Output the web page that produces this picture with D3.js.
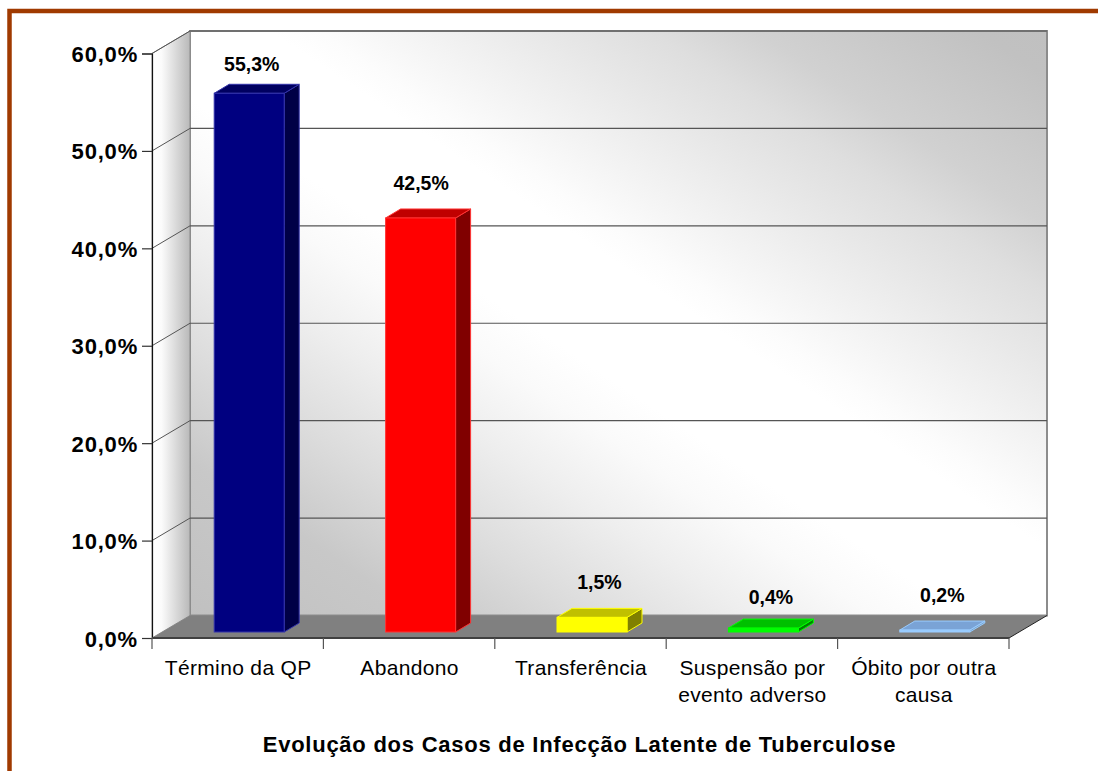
<!DOCTYPE html>
<html>
<head>
<meta charset="utf-8">
<script src="https://cdn.jsdelivr.net/npm/d3@7"></script>
<style>
  html, body { margin: 0; padding: 0; background: #fff; }
  svg { display: block; font-family: "Liberation Sans", Arial, sans-serif; }
</style>
</head>
<body>
<script>
const categories = ['Término da QP', 'Abandono', 'Transferência', 'Suspensão por|evento adverso', 'Óbito por outra|causa'];
const values = [55.3, 42.5, 1.5, 0.4, 0.2];
const yTicks = [0, 10, 20, 30, 40, 50, 60];
const title = 'Evolução dos Casos de Infecção Latente de Tuberculose';

const frontColors = ['#000080', '#ff0000', '#ffff00', '#00ff00', '#99ccff'];
const sideColors = ['#000046', '#800000', '#808000', '#008000', '#7aa3cc'];
const topColors = ['#000060', '#c00000', '#c0c000', '#00c000', '#7aa3d6'];
const edgeColors = ['#3333aa', '#ff3333', '#ffff00', '#00ff00', '#99ccff'];
const labelGap = [13, 19, 19, 15, 19];
const labelShift = [-5, -7, 0, 0, 0];

const width = 1098, height = 771;
const wallDx = 38, wallDy = -22.5;   // depth of the 3d box
const barDx = 15, barDy = -9;        // depth of one bar
const barOffX = 11.5, barOffY = -6;  // bars stand a bit behind the front edge

const x = d3.scaleBand().domain(categories).range([152, 1009]);
const y = d3.scaleLinear().domain([0, 60]).range([638, 53.5]);
const barW = 70;

const fmt = v => v.toFixed(1).replace('.', ',') + '%';

const svg = d3.select('body').append('svg').attr('width', width).attr('height', height);
const defs = svg.append('defs');

// white band runs top left to bottom right
const wallGrad = defs.append('linearGradient').attr('id', 'wall')
  .attr('gradientUnits', 'userSpaceOnUse')
  .attr('x1', 330).attr('y1', 760).attr('x2', 910).attr('y2', -110);
wallGrad.selectAll('stop')
  .data([[0.04, '#c0c0c0'], [0.163, '#c8c8c8'], [0.251, '#dcdcdc'], [0.337, '#eeeeee'], [0.404, '#fafafa'],
    [0.452, '#ffffff'], [0.548, '#ffffff'], [0.574, '#fcfcfc'], [0.691, '#e8e8e8'], [0.751, '#dedede'],
    [0.806, '#d1d1d1'], [0.924, '#c1c1c1'], [0.96, '#c0c0c0']])
  .join('stop').attr('offset', d => d[0]).attr('stop-color', d => d[1]);

const sideGrad = defs.append('linearGradient').attr('id', 'side');
sideGrad.selectAll('stop')
  .data([[0, '#ffffff'], [0.25, '#fbfbfb'], [1, '#b9b9b9']])
  .join('stop').attr('offset', d => d[0]).attr('stop-color', d => d[1]);

// page frame
svg.append('path')
  .attr('d', `M9.5,771V11H${width}`)
  .attr('fill', 'none').attr('stroke', '#a03a00').attr('stroke-width', 4.5);

const x0 = x.range()[0], x1 = x.range()[1];
const yBase = y(0), yTop = y(60);

// back wall, left wall, floor
svg.append('rect')
  .attr('x', x0 + wallDx).attr('y', yTop + wallDy)
  .attr('width', x1 - x0).attr('height', yBase - yTop)
  .attr('fill', 'url(#wall)').attr('stroke', '#8c8c8c').attr('stroke-width', 2);
svg.append('path')
  .attr('d', `M${x0},${yTop}L${x0 + wallDx},${yTop + wallDy}V${yBase + wallDy}L${x0},${yBase}Z`)
  .attr('fill', 'url(#side)').attr('stroke', '#8c8c8c');
svg.append('path')
  .attr('d', `M${x0},${yBase}L${x0 + wallDx},${yBase + wallDy}H${x1 + wallDx}L${x1},${yBase}Z`)
  .attr('fill', '#808080');

// grid
const grid = yTicks.filter(t => t > 0);
svg.selectAll('.gridBack').data(grid).join('line').attr('class', 'gridBack')
  .attr('x1', x0 + wallDx).attr('x2', x1 + wallDx)
  .attr('y1', d => y(d) + wallDy).attr('y2', d => y(d) + wallDy)
  .attr('stroke', '#555').attr('stroke-width', 1.2);
svg.selectAll('.gridSide').data(grid).join('line').attr('class', 'gridSide')
  .attr('x1', x0).attr('x2', x0 + wallDx)
  .attr('y1', d => y(d)).attr('y2', d => y(d) + wallDy)
  .attr('stroke', '#555').attr('stroke-width', 1);

// floor edge to the right
svg.append('line')
  .attr('x1', x1).attr('y1', yBase).attr('x2', x1 + wallDx).attr('y2', yBase + wallDy)
  .attr('stroke', '#222').attr('stroke-width', 1);

// axes
const yAxis = d3.axisLeft(y).tickValues(yTicks).tickFormat(fmt).tickSize(10).tickPadding(4);
const gy = svg.append('g').attr('transform', `translate(${x0},0)`).call(yAxis);
gy.select('.domain').attr('stroke', '#111').attr('stroke-width', 1.2);
gy.selectAll('.tick line').attr('stroke', '#333').attr('stroke-width', 1.2);
gy.selectAll('.tick text').attr('fill', '#000').attr('y', 1)
  .style('font-size', '22px').style('font-weight', 'bold').style('letter-spacing', '0.8px');

svg.append('line')
  .attr('x1', x0).attr('x2', x1).attr('y1', yBase).attr('y2', yBase)
  .attr('stroke', '#404040').attr('stroke-width', 2);

svg.selectAll('.catTick').data(d3.range(categories.length + 1)).join('line').attr('class', 'catTick')
  .attr('x1', i => x0 + i * x.bandwidth()).attr('x2', i => x0 + i * x.bandwidth())
  .attr('y1', yBase).attr('y2', yBase + 11)
  .attr('stroke', '#555').attr('stroke-width', 1.2);

const catText = svg.selectAll('.cat').data(categories).join('text').attr('class', 'cat')
  .attr('text-anchor', 'middle').attr('font-size', 21).attr('letter-spacing', 0.35).attr('fill', '#000');
catText.each(function (c) {
  const t = d3.select(this);
  c.split('|').forEach((line, i) => {
    t.append('tspan').attr('x', x(c) + x.bandwidth() / 2 + 0.5).attr('y', 675 + i * 27).text(line);
  });
});

// bars
const bars = svg.selectAll('.bar').data(categories).join('g').attr('class', 'bar');
const bx = c => x(c) + (x.bandwidth() - barW) / 2 + barOffX;
const valOf = i => y(values[i]) + barOffY;
const b0 = yBase + barOffY;

bars.append('path')
  .attr('d', (c, i) => `M${bx(c) + barW},${b0}l${barDx},${barDy}V${valOf(i) + barDy}l${-barDx},${-barDy}Z`)
  .attr('fill', (c, i) => sideColors[i]).attr('stroke', (c, i) => edgeColors[i]);
bars.append('path')
  .attr('d', (c, i) => `M${bx(c)},${valOf(i)}l${barDx},${barDy}h${barW}l${-barDx},${-barDy}Z`)
  .attr('fill', (c, i) => topColors[i]).attr('stroke', (c, i) => edgeColors[i]);
bars.append('rect')
  .attr('x', c => bx(c)).attr('y', (c, i) => valOf(i))
  .attr('width', barW).attr('height', (c, i) => b0 - valOf(i))
  .attr('fill', (c, i) => frontColors[i]).attr('stroke', (c, i) => edgeColors[i]);

// value labels
svg.selectAll('.val').data(values).join('text').attr('class', 'val')
  .attr('x', (v, i) => bx(categories[i]) + barW / 2 + barDx / 2 + labelShift[i])
  .attr('y', (v, i) => valOf(i) + barDy - labelGap[i])
  .attr('text-anchor', 'middle').attr('font-size', 19.5).attr('font-weight', 'bold')
  .text(fmt);

svg.append('text')
  .attr('x', 579.5).attr('y', 752)
  .attr('text-anchor', 'middle').attr('font-size', 22).attr('letter-spacing', 0.75).attr('font-weight', 'bold')
  .text(title);
</script>
</body>
</html>
